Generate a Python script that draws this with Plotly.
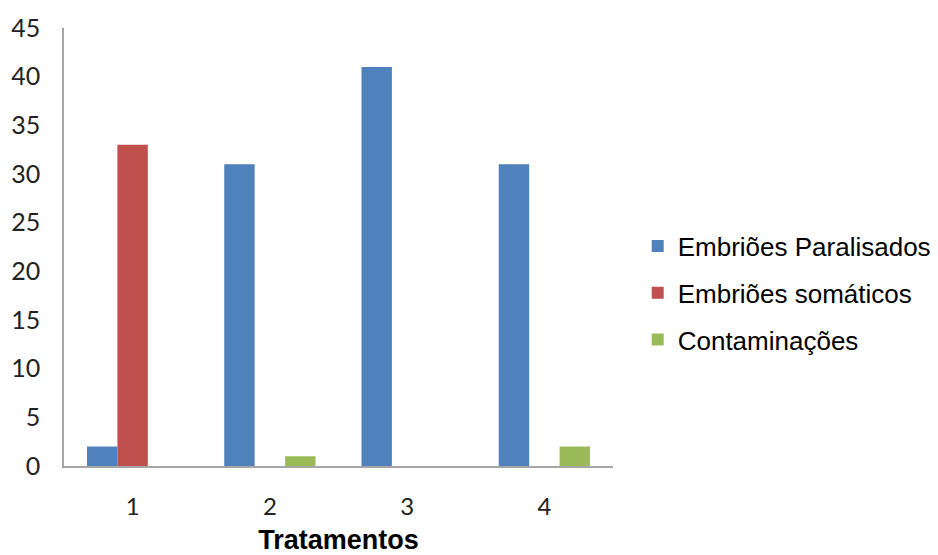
import plotly.graph_objects as go

categories = ["1", "2", "3", "4"]
series_names = ["Embriões Paralisados", "Embriões somáticos", "Contaminações"]
paralisados = [2, 31, 41, 31]
somaticos = [33, 0, 0, 0]
contaminacoes = [0, 1, 0, 2]
colors = ["#4F81BD", "#C0504D", "#9BBB59"]
y_ticks = [0, 5, 10, 15, 20, 25, 30, 35, 40, 45]

fig = go.Figure()
for i, (name, vals) in enumerate(zip(series_names, [paralisados, somaticos, contaminacoes])):
    fig.add_trace(go.Bar(x=categories, y=vals, name=name, marker_color=colors[i],
                         marker_line_width=0, legendgroup=str(i)))

fig.update_layout(
    width=938, height=555,
    margin=dict(l=64, r=325, t=28, b=89, autoexpand=False),
    paper_bgcolor="white", plot_bgcolor="white",
    barmode="group", bargap=0.335, bargroupgap=0,
    legend=dict(x=1.045, y=0.395, xanchor="left", yanchor="middle",
                font=dict(family="Liberation Sans, Arial", size=26, color="#000"),
                tracegroupgap=10, itemwidth=30),
    xaxis=dict(type="category", showline=True, linecolor="#A6A6A6", linewidth=1.5,
               ticks="", automargin=False, ticklabelstandoff=18,
               tickfont=dict(family="Lato, Calibri", size=24, color="#222"),
               title=dict(text="<b>Tratamentos</b>", standoff=17,
                          font=dict(family="Liberation Sans, Arial", size=27, color="#000"))),
    yaxis=dict(range=[0, 45], tickvals=y_ticks, showgrid=False, zeroline=False,
               showline=True, linecolor="#A6A6A6", linewidth=1.5, ticks="",
               ticklabelstandoff=17, automargin=False,
               tickfont=dict(family="Lato, Calibri", size=25, color="#222")),
)
fig.write_html("out.html", config={"displayModeBar": False},
               post_script="document.body.style.margin='0';document.body.style.overflow='hidden';")
